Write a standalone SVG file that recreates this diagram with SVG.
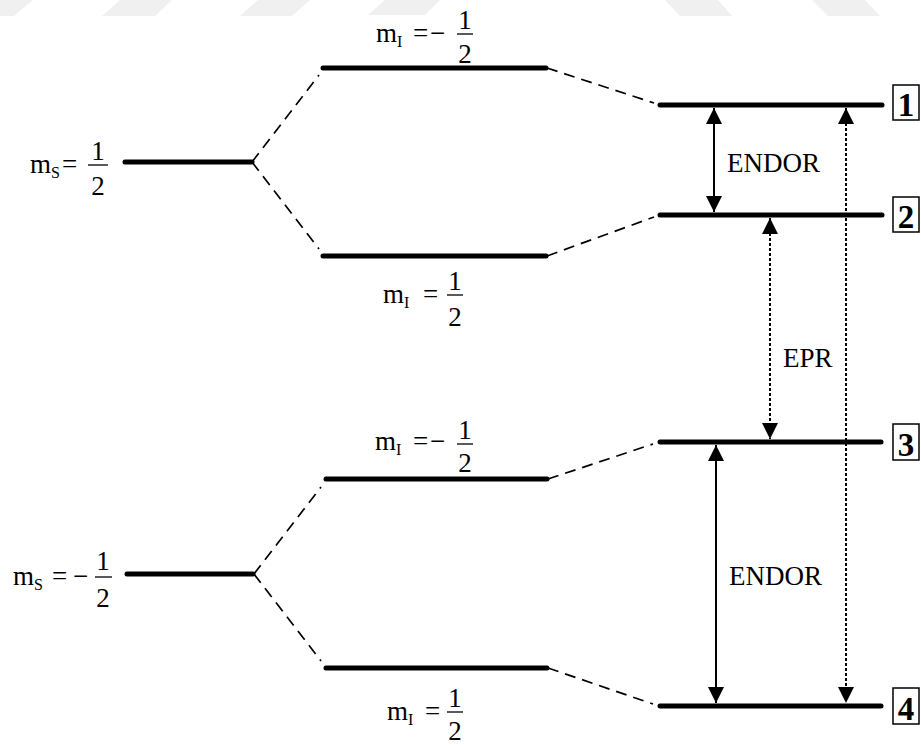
<svg xmlns="http://www.w3.org/2000/svg" width="921" height="745" viewBox="0 0 921 745">
<style>
text{font-family:"Liberation Serif","Times New Roman",serif;fill:#000}
.t{font-size:27px}
.sub{font-size:16px}
.num{font-size:33px;font-weight:bold;text-anchor:middle}
.c{text-anchor:middle}
.lvl{stroke:#000;stroke-width:5;stroke-linecap:round;fill:none}
.dash{stroke:#000;stroke-width:1.7;stroke-dasharray:11 7;fill:none}
.solid{stroke:#000;stroke-width:2;fill:none}
.dot{stroke:#000;stroke-width:2;stroke-dasharray:3 2;fill:none}
.bar{stroke:#000;stroke-width:1.3}
.box{fill:none;stroke:#000;stroke-width:1.5}
.wm{fill:#f0f0f0}
</style>
<defs>
<marker id="ah" markerUnits="userSpaceOnUse" markerWidth="16" markerHeight="16" refX="16" refY="8" orient="auto-start-reverse" viewBox="0 0 16 16">
<path d="M0,0 L16,8 L0,16 z" fill="#000"/>
</marker>
</defs>
<rect width="921" height="745" fill="#fff"/>
<g id="watermark">
<polygon class="wm" points="0,0 33,0 14,16 0,16"/>
<polygon class="wm" points="120,0 172,0 155,16 102,16"/>
<polygon class="wm" points="258,0 310,0 292,16 240,16"/>
<polygon class="wm" points="385,0 440,0 425,15 368,15"/>
<polygon class="wm" points="665,0 718,0 732,16 680,16"/>
<polygon class="wm" points="812,0 865,0 880,16 828,16"/>
</g>
<g id="connectors">
<line class="dash" x1="252" y1="162" x2="319" y2="75"/>
<line class="dash" x1="252" y1="162" x2="319" y2="249"/>
<line class="dash" x1="547" y1="68" x2="654" y2="103"/>
<line class="dash" x1="547" y1="256" x2="654" y2="217"/>
<line class="dash" x1="254" y1="574" x2="321" y2="487"/>
<line class="dash" x1="254" y1="574" x2="321" y2="661"/>
<line class="dash" x1="548" y1="479" x2="653" y2="444"/>
<line class="dash" x1="548" y1="668" x2="653" y2="704"/>
<line class="solid" x1="714" y1="108" x2="714" y2="212" marker-start="url(#ah)" marker-end="url(#ah)"/>
<line class="dot" x1="770" y1="218" x2="770" y2="439" marker-start="url(#ah)" marker-end="url(#ah)"/>
<line class="dot" x1="846" y1="108" x2="846" y2="703" marker-start="url(#ah)" marker-end="url(#ah)"/>
<line class="solid" x1="716" y1="445" x2="716" y2="703" marker-start="url(#ah)" marker-end="url(#ah)"/>
</g>
<g id="ms-plus">
<line class="lvl" x1="125" y1="162" x2="252" y2="162"/>
<text class="t" x="30" y="173">m</text><text class="sub" x="51" y="178">S</text>
<text class="t" x="62" y="173">=</text>
<text class="t c" x="98" y="160">1</text><line class="bar" x1="88" y1="165" x2="108" y2="165"/><text class="t c" x="98" y="195">2</text>
</g>
<g id="mi-minus-top">
<line class="lvl" x1="323" y1="68" x2="546" y2="68"/>
<text class="t" x="376" y="42">m</text><text class="sub" x="397" y="47">I</text>
<text class="t" x="413" y="42">=</text><text class="t" x="430" y="42">−</text>
<text class="t c" x="465" y="29">1</text><line class="bar" x1="457" y1="34" x2="473" y2="34"/><text class="t c" x="465" y="63">2</text>
</g>
<g id="mi-plus-top">
<line class="lvl" x1="323" y1="256" x2="546" y2="256"/>
<text class="t" x="383" y="303">m</text><text class="sub" x="404" y="308">I</text>
<text class="t" x="423" y="303">=</text>
<text class="t c" x="455" y="290">1</text><line class="bar" x1="447" y1="295" x2="463" y2="295"/><text class="t c" x="455" y="326">2</text>
</g>
<g id="ms-minus">
<line class="lvl" x1="127" y1="574" x2="253" y2="574"/>
<text class="t" x="13" y="585">m</text><text class="sub" x="34" y="590">S</text>
<text class="t" x="52" y="585">=</text><text class="t" x="73" y="585">−</text>
<text class="t c" x="103" y="570">1</text><line class="bar" x1="95" y1="577" x2="112" y2="577"/><text class="t c" x="103" y="607">2</text>
</g>
<g id="mi-minus-bottom">
<line class="lvl" x1="326" y1="479" x2="547" y2="479"/>
<text class="t" x="375" y="450">m</text><text class="sub" x="396" y="455">I</text>
<text class="t" x="413" y="450">=</text><text class="t" x="430" y="450">−</text>
<text class="t c" x="465" y="439">1</text><line class="bar" x1="457" y1="444" x2="473" y2="444"/><text class="t c" x="465" y="472">2</text>
</g>
<g id="mi-plus-bottom">
<line class="lvl" x1="326" y1="668" x2="547" y2="668"/>
<text class="t" x="387" y="720">m</text><text class="sub" x="408" y="725">I</text>
<text class="t" x="425" y="720">=</text>
<text class="t c" x="455" y="707">1</text><line class="bar" x1="447" y1="712" x2="463" y2="712"/><text class="t c" x="455" y="740">2</text>
</g>
<g id="level1">
<line class="lvl" x1="660" y1="105" x2="882" y2="105"/>
<rect class="box" x="893" y="85" width="26" height="35"/>
<text class="num" x="906" y="116">1</text>
</g>
<g id="level2">
<line class="lvl" x1="660" y1="215" x2="882" y2="215"/>
<rect class="box" x="893" y="197" width="26" height="35"/>
<text class="num" x="906" y="228">2</text>
</g>
<g id="level3">
<line class="lvl" x1="660" y1="442" x2="881" y2="442"/>
<rect class="box" x="893" y="424" width="26" height="36"/>
<text class="num" x="906" y="456">3</text>
</g>
<g id="level4">
<line class="lvl" x1="660" y1="706" x2="881" y2="706"/>
<rect class="box" x="893" y="688" width="26" height="36"/>
<text class="num" x="906" y="720">4</text>
</g>
<g id="labels">
<text class="t" x="727" y="172">ENDOR</text>
<text class="t" x="783" y="367">EPR</text>
<text class="t" x="729" y="585">ENDOR</text>
</g>
</svg>
